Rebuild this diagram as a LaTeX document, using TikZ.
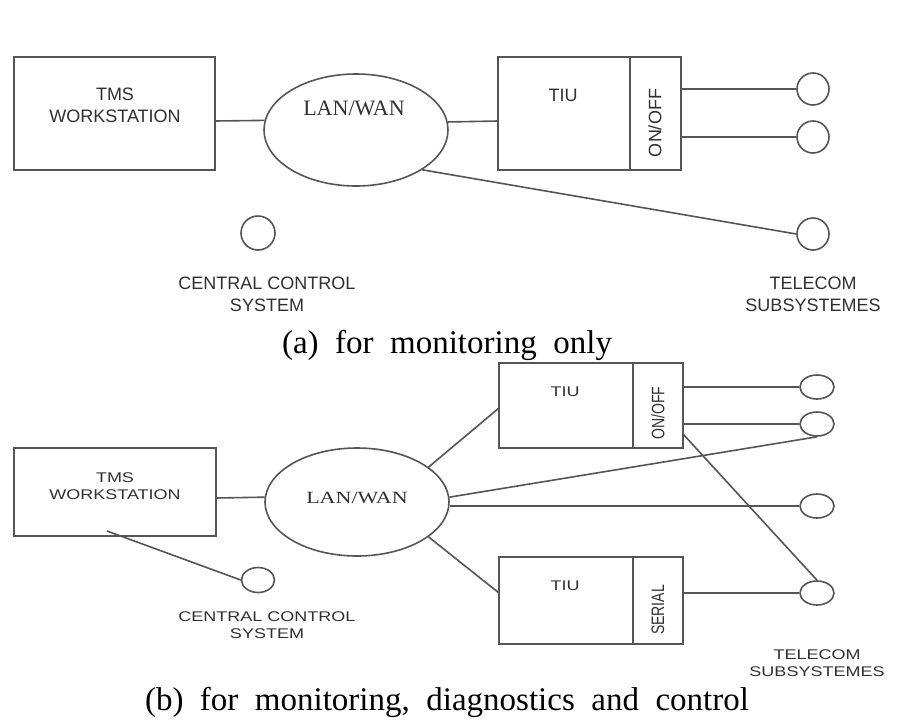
\documentclass[tikz,border=0pt]{standalone}
\usepackage{fontspec}
\setmainfont{Liberation Serif}
\newfontfamily\arialfont{Liberation Sans}
\usetikzlibrary{shapes.geometric}
\definecolor{linegray}{HTML}{555555}
\definecolor{textgray}{HTML}{303030}

\begin{document}
\begin{tikzpicture}[x=1pt,y=1pt,
  box/.style={rectangle,draw=linegray,line width=1.6pt,inner sep=0pt,outer sep=0pt},
  net/.style={ellipse,draw=linegray,line width=1.6pt,inner sep=0pt,
    minimum width=184pt,minimum height=112pt},
  ring/.style={circle,draw=linegray,line width=1.6pt,inner sep=0pt,minimum size=32pt},
  oval/.style={ellipse,draw=linegray,line width=1.6pt,inner sep=0pt,
    minimum width=34pt,minimum height=24pt},
  lbl/.style={text=textgray,font=\arialfont\fontsize{18}{22}\selectfont,
    align=center,inner sep=0pt},
  netlbl/.style={text=textgray,font=\fontsize{22}{26}\selectfont,inner sep=0pt},
  flat/.style={yscale=0.78,transform shape},
  caption/.style={font=\fontsize{33}{37}\selectfont,inner sep=0pt,anchor=base},
  wire/.style={draw=linegray,line width=1.6pt}]
    \useasboundingbox (0,0) rectangle (899,-726);
    % (a) monitoring only
    \node[box,minimum width=201pt,minimum height=113pt] (tmsA) at (114.5,-113.5) {};
    \node[lbl] (tmsAtxt) at (115,-105) {TMS\\WORKSTATION};
    \node[net] (lanA) at (356,-130) {};
    \node[netlbl] (lanAtxt) at (354,-108) {LAN/WAN};
    \node[box,minimum width=132pt,minimum height=113pt] (tiuA) at (564,-113.5) {};
    \node[box,minimum width=51pt,minimum height=113pt,anchor=west] (swA) at (tiuA.east) {};
    \node[lbl] (tiuAtxt) at (563,-95) {TIU};
    \node[lbl,rotate=90] (swAtxt) at (655,-123) {ON/OFF};
    \node[ring] (tA1) at (813,-89) {};
    \node[ring] (tA2) at (813,-137) {};
    \node[ring] (tA3) at (813,-234) {};
    \node[ring,minimum size=34pt] (ccA) at (258,-233) {};
    \node[lbl] (ccAtxt) at (267,-294) {CENTRAL CONTROL\\SYSTEM};
    \node[lbl] (telAtxt) at (813,-294) {TELECOM\\SUBSYSTEMES};
    \draw[wire] ([yshift=-7.5pt]tmsA.east) -- (lanA.174.6);
    \draw[wire] (lanA.5.4) -- ([yshift=-7.5pt]tiuA.west);
    \draw[wire] (tA1.west -| swA.east) -- (tA1.west);
    \draw[wire] (tA2.west -| swA.east) -- (tA2.west);
    \draw[wire] (lanA.-31) -- (tA3.west);
    \node[caption] (capA) at (447,-353) {(a)~~for~~monitoring~~only};
    % (b) monitoring, diagnostics and control
    \node[box,minimum width=202pt,minimum height=88pt] (tmsB) at (115,-492) {};
    \node[lbl,flat] (tmsBtxt) at (115,-486) {TMS\\WORKSTATION};
    \node[net,minimum height=108pt] (lanB) at (357,-502) {};
    \node[netlbl,flat] (lanBtxt) at (357,-498) {LAN/WAN};
    \node[box,minimum width=134pt,minimum height=85pt] (tiuB1) at (566,-405.5) {};
    \node[box,minimum width=50pt,minimum height=85pt,anchor=west] (swB1) at (tiuB1.east) {};
    \node[lbl,flat] (tiuB1txt) at (565,-392) {TIU};
    \node[lbl,flat,rotate=90] (swB1txt) at (658,-413) {ON/OFF};
    \node[box,minimum width=134pt,minimum height=87pt] (tiuB2) at (566,-600.5) {};
    \node[box,minimum width=50pt,minimum height=87pt,anchor=west] (swB2) at (tiuB2.east) {};
    \node[lbl,flat] (tiuB2txt) at (565,-586) {TIU};
    \node[lbl,flat,rotate=90] (swB2txt) at (658,-610) {SERIAL};
    \node[oval] (tB1) at (817,-387) {};
    \node[oval] (tB2) at (817,-424) {};
    \node[oval] (tB3) at (817,-506) {};
    \node[oval] (tB4) at (817,-593) {};
    \node[oval,minimum width=33pt,minimum height=25pt] (ccB) at (258,-580) {};
    \node[lbl,flat] (ccBtxt) at (267,-625) {CENTRAL CONTROL\\SYSTEM};
    \node[lbl,flat] (telBtxt) at (817,-663.5) {TELECOM\\SUBSYSTEMES};
    \draw[wire] ([yshift=-6pt]tmsB.east) -- (lanB.177.5);
    \draw[wire] ([shift={(-8pt,5pt)}]tmsB.south) -- (ccB.west);
    \draw[wire] (lanB.26) -- ([yshift=-2.5pt]tiuB1.west);
    \draw[wire] (lanB.-26) -- ([yshift=7.5pt]tiuB2.west);
    \draw[wire] (lanB.3) -- (tB2.south);
    \draw[wire] (tB3.west -| lanB.east) -- (tB3.west);
    \draw[wire] (tB1.west -| swB1.east) -- (tB1.west);
    \draw[wire] (tB2.west -| swB1.east) -- (tB2.west);
    \draw[wire] ([yshift=-28.5pt]swB1.east) -- (tB4.north);
    \draw[wire] (tB4.west -| swB2.east) -- (tB4.west);
    \node[caption] (capB) at (447,-710) {(b)~~for~~monitoring,~~diagnostics~~and~~control};
\end{tikzpicture}
\end{document}
